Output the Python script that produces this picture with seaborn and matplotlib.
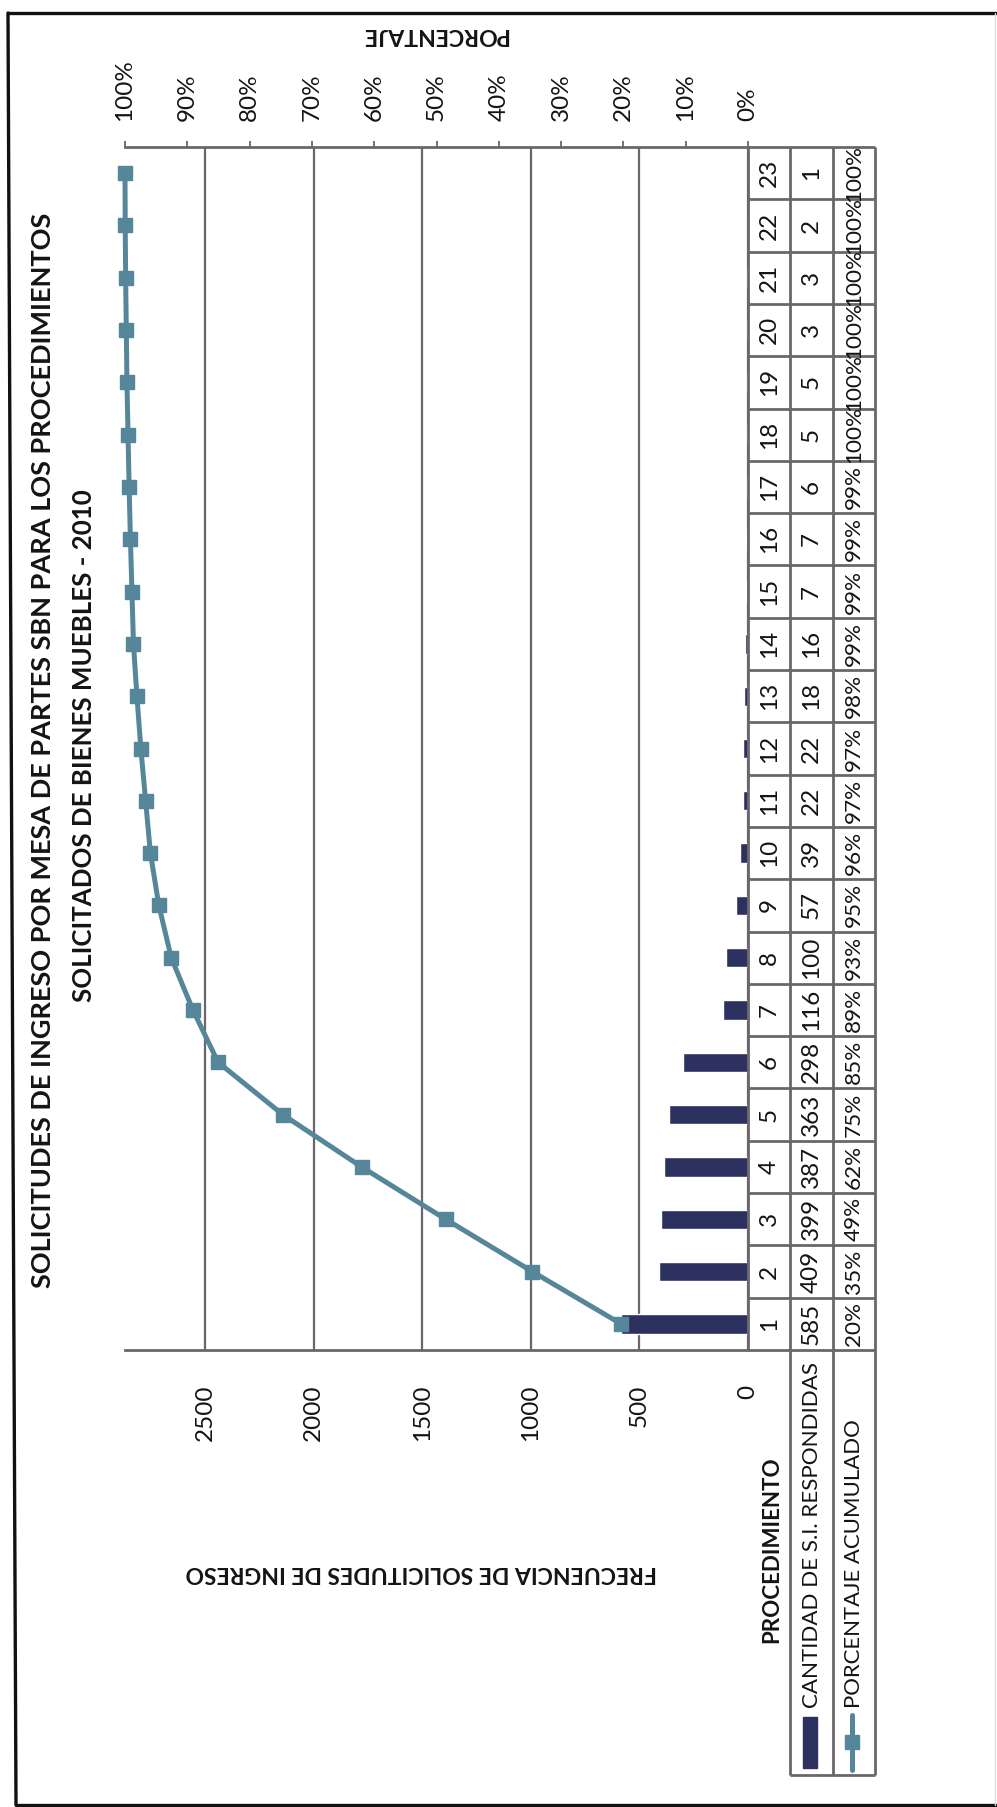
import numpy as np
import pandas as pd
import matplotlib
matplotlib.use("Agg")
import matplotlib.pyplot as plt
import seaborn as sns
from matplotlib.lines import Line2D
from matplotlib.patches import Rectangle

# ---- data -------------------------------------------------------------
procedimientos = [str(i) for i in range(1, 24)]
cantidad = [585, 409, 399, 387, 363, 298, 116, 100, 57, 39, 22, 22,
            18, 16, 7, 7, 6, 5, 5, 3, 3, 2, 1]
porcentaje_acumulado = ["20%", "35%", "49%", "62%", "75%", "85%", "89%",
                        "93%", "95%", "96%", "97%", "97%", "98%", "99%",
                        "99%", "99%", "99%", "100%", "100%", "100%",
                        "100%", "100%", "100%"]
freq_ticks = [0, 500, 1000, 1500, 2000, 2500]
pct_ticks = [0, 10, 20, 30, 40, 50, 60, 70, 80, 90, 100]
pct_labels = ["0%", "10%", "20%", "30%", "40%", "50%", "60%", "70%",
              "80%", "90%", "100%"]

titulo_1 = "SOLICITUDES DE INGRESO POR MESA DE PARTES SBN PARA LOS PROCEDIMIENTOS"
titulo_2 = "SOLICITADOS DE BIENES MUEBLES - 2010"
eje_freq = "FRECUENCIA DE SOLICITUDES DE INGRESO"
eje_pct = "PORCENTAJE"
fila_proc = "PROCEDIMIENTO"
fila_cant = "CANTIDAD DE S.I. RESPONDIDAS"
fila_pct = "PORCENTAJE ACUMULADO"

# ---- style ------------------------------------------------------------
NAVY = "#2d3160"
TEAL = "#56869a"
GRID = "#6b666b"
TEXT = "#141414"
NUM_SIZE = 17.5
PCT_CELL_SIZE = 16.2

sns.set_style("white")
plt.rcParams["font.family"] = ["Lato", "DejaVu Sans"]

W, H = 997, 1807
fig = plt.figure(figsize=(W / 100, H / 100), dpi=100)
fig.patch.set_facecolor("white")


def fx(x):
    return x / W


def fy(y):
    return 1 - y / H


renderer = fig.canvas.get_renderer()


def fit(t, length_px):
    bb = t.get_window_extent(renderer=renderer)
    cur = max(bb.width, bb.height)
    t.set_fontsize(t.get_fontsize() * length_px / cur)


# ---- main chart (drawn turned a quarter turn) ---------------------------
top_px, bot_px, left_px, right_px = 147, 1350, 125, 748
ax = fig.add_axes([fx(left_px), fy(bot_px), (right_px - left_px) / W,
                   (bot_px - top_px) / H])

df = pd.DataFrame({"procedimiento": procedimientos, "cantidad": cantidad})
sns.barplot(data=df, x="cantidad", y="procedimiento", order=procedimientos,
            orient="h", color=NAVY, saturation=1, width=0.37, ax=ax,
            zorder=3)
n = len(procedimientos)
pos = np.arange(n)
total = int(np.sum(cantidad))
acumulado = np.cumsum(cantidad)

ax.set_ylim(-0.5, n - 0.5)
ax.set_xlim(total, 0)
ax.plot(acumulado, pos, color=TEAL, lw=3.6, marker="s", ms=9.5,
        markeredgecolor=TEAL, zorder=5, clip_on=False)

ax.set_xticks(freq_ticks)
ax.set_xticklabels([str(v) for v in freq_ticks])
ax.grid(axis="x", color=GRID, lw=1.6, zorder=0)
ax.grid(axis="y", visible=False)
ax.set_axisbelow(True)
ax.set_xlabel("")
ax.set_ylabel("")
ax.tick_params(axis="y", left=False, labelleft=False)
ax.tick_params(axis="x", length=0, pad=25, labelsize=NUM_SIZE,
               labelrotation=90, labelcolor=TEXT)
for s in ["left", "top", "right"]:
    ax.spines[s].set_visible(False)
ax.spines["bottom"].set_color(GRID)
ax.spines["bottom"].set_linewidth(2)

ax2 = ax.twiny()
ax2.set_xlim(100, 0)
ax2.set_xticks(pct_ticks)
ax2.set_xticklabels(pct_labels)
ax2.tick_params(axis="x", direction="out", length=4, width=1.3, colors=GRID,
                labelcolor=TEXT, labelsize=NUM_SIZE, pad=15, labelrotation=90)
for s in ["left", "bottom", "right"]:
    ax2.spines[s].set_visible(False)
ax2.spines["top"].set_color(GRID)
ax2.spines["top"].set_linewidth(2)

# ---- data table ---------------------------------------------------------
tbl_bottom_px = 1775
row_px = (bot_px - top_px) / n
y_low = (n - 0.5) - (tbl_bottom_px - top_px) / row_px
axt = fig.add_axes([fx(748), fy(tbl_bottom_px), (875 - 748) / W,
                    (tbl_bottom_px - top_px) / H])
axt.set_xlim(0, 3)
axt.set_ylim(y_low, n - 0.5)
axt.axis("off")

edges = np.arange(n + 1) - 0.5
lkw = dict(color=GRID, lw=2, clip_on=False)
axt.hlines(edges, 0, 3, **lkw)
axt.vlines([0], -0.5, n - 0.5, **lkw)
axt.vlines([1, 2, 3], y_low, n - 0.5, **lkw)
axt.hlines([y_low], 1, 3, **lkw)

for i in range(n):
    axt.text(0.5, pos[i], procedimientos[i], rotation=90, ha="center",
             va="center", fontsize=NUM_SIZE, color=TEXT)
    axt.text(1.5, pos[i], str(cantidad[i]), rotation=90, ha="center",
             va="center", fontsize=NUM_SIZE, color=TEXT)
    axt.text(2.5, pos[i], porcentaje_acumulado[i], rotation=90, ha="center",
             va="center", fontsize=PCT_CELL_SIZE, color=TEXT)


def ty(y_px):
    return (n - 0.5) - (y_px - top_px) / row_px


t = axt.text(0.57, ty(1550), fila_proc, rotation=90, ha="center",
             va="center", fontsize=15, fontweight="bold", color=TEXT)
fit(t, 186)
t = axt.text(1.5, ty(1708), fila_cant, rotation=90, rotation_mode="anchor",
             ha="left", va="center", fontsize=15, color=TEXT)
fit(t, 348)
t = axt.text(2.5, ty(1708), fila_pct, rotation=90, rotation_mode="anchor",
             ha="left", va="center", fontsize=15, color=TEXT)
fit(t, 290)

# legend keys inside the row headers
axt.add_patch(Rectangle((1.30, ty(1768)), 0.33, ty(1717) - ty(1768),
                        color=NAVY, clip_on=False))
axt.plot([2.45, 2.45], [ty(1715), ty(1770)], color=TEAL, lw=3.6,
         clip_on=False)
axt.plot([2.45], [ty(1742)], marker="s", ms=9.5, color=TEAL, clip_on=False)

# ---- titles ------------------------------------------------------------
t = fig.text(fx(43), fy(750), titulo_1, rotation=90, ha="center",
             va="center", fontsize=18, fontweight="bold", color=TEXT)
fit(t, 1078)
t = fig.text(fx(84), fy(746), titulo_2, rotation=90, ha="center",
             va="center", fontsize=18, fontweight="bold", color=TEXT)
fit(t, 513)
t = fig.text(fx(435), fy(35), eje_pct, rotation=180, ha="center",
             va="center", fontsize=14, fontweight="bold", color=TEXT)
fit(t, 147)
t = fig.text(fx(421), fy(1572), eje_freq, rotation=180, ha="center",
             va="center", fontsize=14, fontweight="bold", color=TEXT)
fit(t, 474)

# ---- outer frame -------------------------------------------------------
fkw = dict(transform=fig.transFigure, color="#111111", lw=2.4)
fig.add_artist(Line2D([fx(8), fx(16)], [fy(13), fy(1805)], **fkw))
fig.add_artist(Line2D([fx(8), fx(997)], [fy(13), fy(13)], **fkw))
fig.add_artist(Line2D([fx(16), fx(997)], [fy(1805), fy(1805)], **fkw))
fig.add_artist(Line2D([fx(995), fx(995)], [fy(13), fy(1805)],
                      transform=fig.transFigure, color="#dddddd", lw=1))

fig.savefig("out.png", dpi=100, facecolor="white")
